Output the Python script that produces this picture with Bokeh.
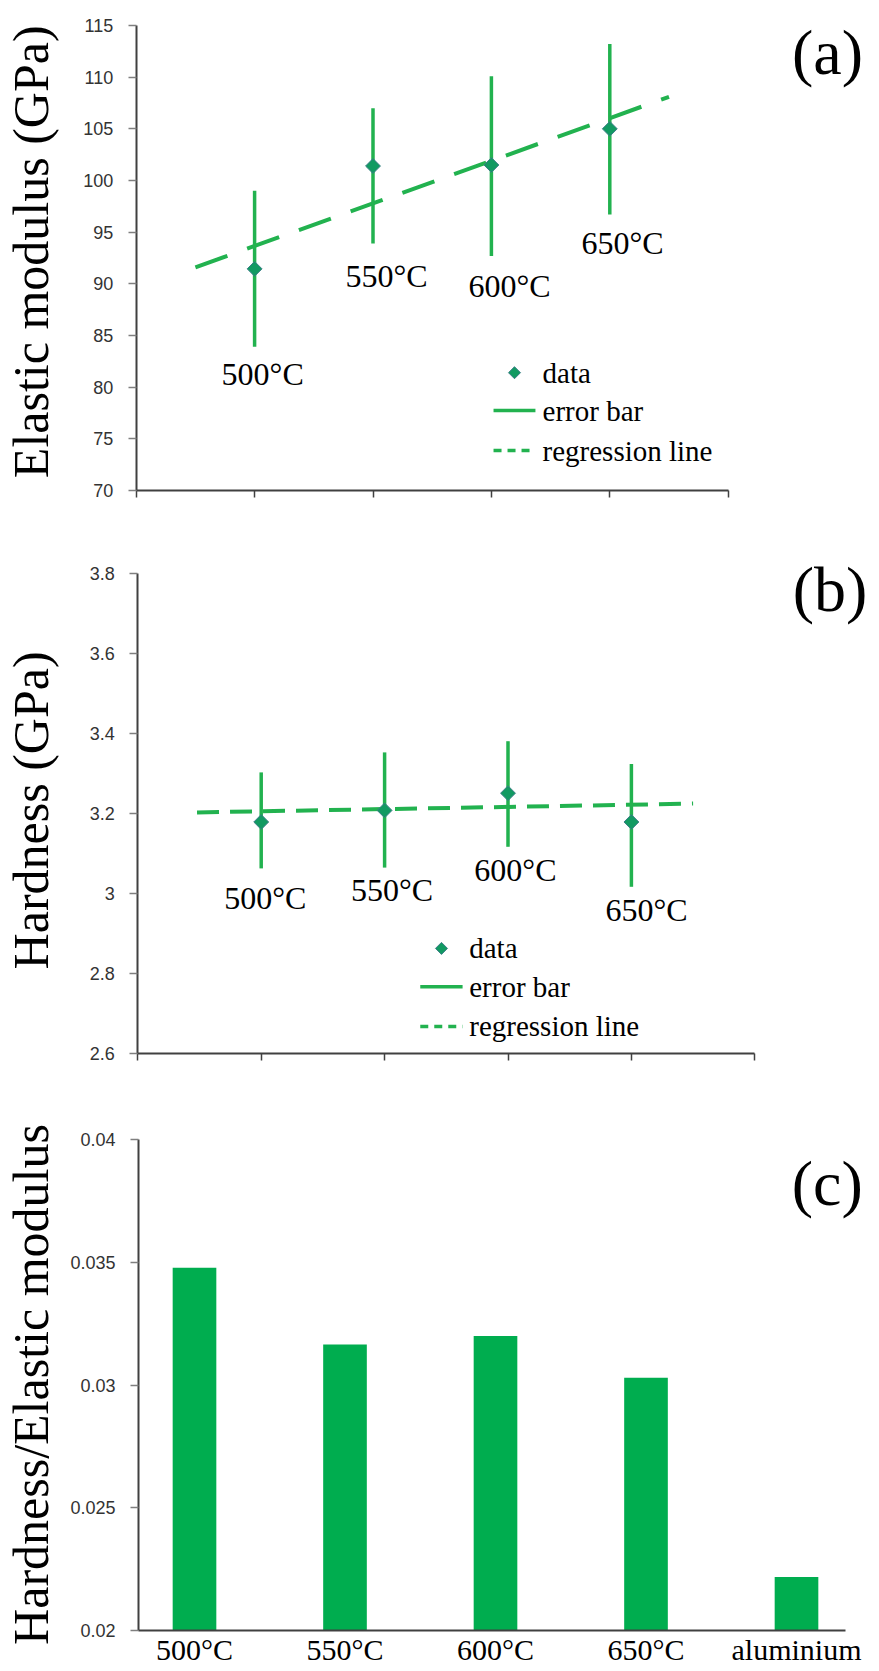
import math
from bokeh.plotting import figure
from bokeh.layouts import column
from bokeh.models import Range1d, FixedTicker, CustomJSTickFormatter
from bokeh.core.properties import value
from bokeh.embed import file_html
from bokeh.resources import INLINE

# ---------------- data ----------------
temps = ["500°C", "550°C", "600°C", "650°C"]
temp_pos = [1, 2, 3, 4]

modulus = [91.45, 101.4, 101.5, 105.0]
modulus_hi = [99.0, 107.0, 110.1, 113.2]
modulus_lo = [83.9, 93.9, 92.7, 96.7]
modulus_fit_x = [0.5, 4.5]
modulus_fit_y = [91.6, 108.1]
modulus_ticks = [70, 75, 80, 85, 90, 95, 100, 105, 110, 115]

hardness = [3.178, 3.207, 3.25, 3.178]
hardness_hi = [3.302, 3.352, 3.38, 3.323]
hardness_lo = [3.062, 3.064, 3.116, 3.016]
hardness_fit_x = [0.48, 4.5]
hardness_fit_y = [3.202, 3.224]
hardness_ticks = [2.6, 2.8, 3, 3.2, 3.4, 3.6, 3.8]

ratio_cats = ["500°C", "550°C", "600°C", "650°C", "aluminium"]
ratio_pos = [1, 2, 3, 4, 5]
ratio = [0.03478, 0.03165, 0.0320, 0.0303, 0.02218]
ratio_ticks = [0.02, 0.025, 0.03, 0.035, 0.04]

legend_texts = ["data", "error bar", "regression line"]

# ---------------- style ----------------
GREEN = "#22b24f"
MARK = "#129a62"
MARK_LINE = "#3b7f86"
BAR = "#00ad4f"
AXIS = "#404040"
TICKLAB = "#333333"
SERIF = "Liberation Serif"
SANS = "Liberation Sans"
W = 879
TITLE_PX = 30  # horizontal pixel position of the rotated y titles


class Panel:
    """Figure whose frame fills the whole figure; both axes sit at fixed data locations."""

    def __init__(self, height, axis_px, x_origin, ppu, base_px, y_origin, y_ppu):
        # axis_px: pixel column of the y axis; base_px: pixel row (from top) of the x axis
        self.x_start = x_origin - axis_px / ppu
        self.ppu = ppu
        self.x_origin = x_origin
        self.y_origin = y_origin
        y_start = y_origin - (height - base_px) / y_ppu
        y_end = y_origin + base_px / y_ppu
        self.p = figure(width=W, height=height, output_backend="svg", toolbar_location=None,
                        x_range=Range1d(self.x_start, self.x_start + W / ppu),
                        y_range=Range1d(y_start, y_end),
                        min_border_left=0, min_border_right=0, min_border_top=0,
                        min_border_bottom=0)
        p = self.p
        p.outline_line_color = None
        p.xgrid.visible = False
        p.ygrid.visible = False
        p.background_fill_color = "white"
        p.border_fill_color = "white"
        p.xaxis[0].fixed_location = y_origin
        p.yaxis[0].fixed_location = x_origin

    def px(self, fig_px):
        return self.x_start + fig_px / self.ppu


def style_yaxis(panel, ticks, bounds, label, label_y):
    p = panel.p
    ax = p.yaxis[0]
    ax.ticker = FixedTicker(ticks=ticks)
    ax.bounds = bounds
    ax.formatter = CustomJSTickFormatter(code="return tick.toString()")
    ax.axis_line_color = AXIS
    ax.axis_line_width = 2
    ax.major_tick_out = 8
    ax.major_tick_in = 0
    ax.major_tick_line_color = "#7f7f7f"
    ax.major_tick_line_width = 1.5
    ax.minor_tick_line_color = None
    ax.major_label_text_font = SANS
    ax.major_label_text_font_size = "18px"
    ax.major_label_text_color = TICKLAB
    ax.major_label_standoff = 15
    p.text(x=[panel.px(TITLE_PX)], y=[label_y], text=[label], angle=math.pi / 2,
           text_align="center", text_baseline="middle", text_font=value(SERIF),
           text_font_size="50px", text_color="black")


def style_xaxis_blank(p, bounds):
    ax = p.xaxis[0]
    ax.ticker = FixedTicker(ticks=[0, 1, 2, 3, 4, 5])
    ax.bounds = bounds
    ax.axis_line_color = AXIS
    ax.axis_line_width = 2
    ax.major_tick_out = 7
    ax.major_tick_in = 0
    ax.major_tick_line_color = AXIS
    ax.major_tick_line_width = 1.5
    ax.minor_tick_line_color = None
    ax.major_label_text_font_size = "0px"
    ax.major_label_standoff = 0
    ax.formatter = CustomJSTickFormatter(code="return ''")


def scatter_panel(p, vals, lo, hi, fit_x, fit_y, dash, lab_x, lab_y, leg, panel_xy, panel_txt):
    p.line(fit_x, fit_y, line_color=GREEN, line_width=4, line_dash=dash)
    p.segment(x0=temp_pos, y0=lo, x1=temp_pos, y1=hi, line_color=GREEN, line_width=3.5)
    p.scatter(temp_pos, vals, marker="square", angle=math.pi / 4, size=10.5,
              fill_color=MARK, line_color=MARK_LINE, line_width=1)
    p.text(x=lab_x, y=lab_y, text=temps, text_font=value(SERIF), text_font_size="32px",
           text_align="center", text_baseline="middle", text_color="black")
    # legend
    (mx, my), (lx0, lx1, ly), (rx0, rx1, ry), tx = leg
    p.scatter([mx], [my], marker="square", angle=math.pi / 4, size=8.5,
              fill_color=MARK, line_color=MARK_LINE, line_width=1)
    p.segment(x0=[lx0], y0=[ly], x1=[lx1], y1=[ly], line_color=GREEN, line_width=3.5)
    p.segment(x0=[rx0], y0=[ry], x1=[rx1], y1=[ry], line_color=GREEN, line_width=3.5,
              line_dash="8 6")
    p.text(x=[tx, tx, tx], y=[my, ly, ry], text=legend_texts, text_font=value(SERIF),
           text_font_size="29px", text_align="left", text_baseline="middle",
           text_color="black")
    p.text(x=[panel_xy[0]], y=[panel_xy[1]], text=[panel_txt], text_font=value(SERIF),
           text_font_size="64px", text_align="center", text_baseline="middle",
           text_color="black")


# ---------------- panel (a) ----------------
A = Panel(500, 135.7, 0, 118.4, 490, 70, 465 / 45)
pa = A.p
style_yaxis(A, modulus_ticks, (70, 115), "Elastic modulus (GPa)", 93.1)
style_xaxis_blank(pa, (0, 5))
scatter_panel(pa, modulus, modulus_lo, modulus_hi, modulus_fit_x, modulus_fit_y, "34 21",
              [1.068, 2.115, 3.153, 4.107], [81.3, 90.8, 89.8, 94.0],
              ((3.195, 81.4), (3.018, 3.372, 77.74), (3.018, 3.372, 73.87), 3.432),
              (5.839, 112.4), "(a)")

# ---------------- panel (b) ----------------
B = Panel(563, 137.3, 0, 123.4, 552.7, 2.6, 400)
pb = B.p
style_yaxis(B, hardness_ticks, (2.6, 3.8), "Hardness (GPa)", 3.207)
style_xaxis_blank(pb, (0, 5))
scatter_panel(pb, hardness, hardness_lo, hardness_hi, hardness_fit_x, hardness_fit_y, "22 11",
              [1.033, 2.06, 3.06, 4.122], [2.987, 3.009, 3.058, 2.959],
              ((2.461, 2.862), (2.289, 2.632, 2.766), (2.289, 2.632, 2.667), 2.686),
              (5.61, 3.7585), "(b)")

# ---------------- panel (c) ----------------
x0c = 1 - 56 / 150.5
C = Panel(607, 138, x0c, 150.5, 567, 0.02, 24550)
pc = C.p
style_yaxis(C, ratio_ticks, (0.02, 0.04), "Hardness/Elastic modulus", 0.03002)
pc.vbar(x=ratio_pos, top=ratio, bottom=0.02, width=0.29, fill_color=BAR, line_color=None)
axc = pc.xaxis[0]
axc.ticker = FixedTicker(ticks=ratio_pos)
axc.bounds = (x0c, 5.326)
axc.formatter = CustomJSTickFormatter(args=dict(labels=ratio_cats),
                                      code="return labels[Math.round(tick) - 1]")
axc.axis_line_color = AXIS
axc.axis_line_width = 2
axc.major_tick_out = 0
axc.major_tick_in = 0
axc.minor_tick_line_color = None
axc.major_label_text_font = SERIF
axc.major_label_text_font_size = "30px"
axc.major_label_text_color = "black"
axc.major_label_standoff = 2
pc.text(x=[5.204], y=[0.03821], text=["(c)"], text_font=value(SERIF), text_font_size="64px",
        text_align="center", text_baseline="middle", text_color="black")

layout = column(pa, pb, pc, spacing=0)
open("out.html", "w").write(file_html(layout, INLINE))
